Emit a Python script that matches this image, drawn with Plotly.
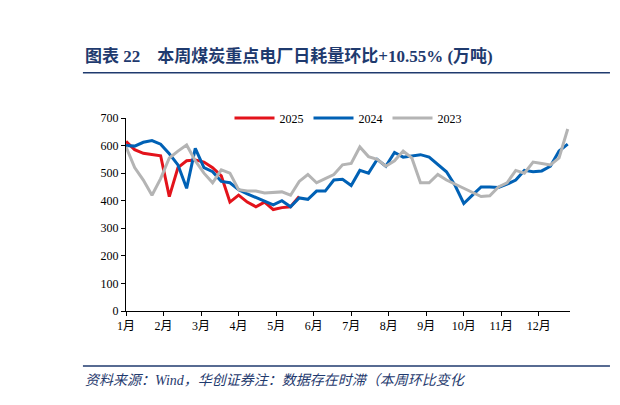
import plotly.graph_objects as go

months = ['1月', '2月', '3月', '4月', '5月', '6月', '7月', '8月', '9月', '10月', '11月', '12月']

y2025 = [615, 585, 572, 567, 563, 415, 520, 545, 548, 540, 520, 490, 395, 420, 395, 378,
         395, 368, 375, 378, 415]
y2024 = [600, 598, 612, 618, 605, 570, 530, 445, 590, 520, 505, 470, 465, 440, 425, 412,
         398, 385, 400, 378, 410, 405, 435, 435, 475, 478, 455, 510, 500, 550, 525, 575,
         558, 562, 567, 558, 530, 505, 455, 390, 420, 450, 450, 448, 460, 475, 510, 505,
         508, 525, 580, 605]
y2023 = [595, 520, 475, 420, 480, 555, 580, 602, 545, 500, 465, 512, 500, 440, 435, 435,
         428, 430, 432, 420, 470, 495, 465, 480, 495, 530, 535, 595, 560, 550, 525, 545,
         580, 555, 465, 465, 495, 475, 460, 445, 430, 415, 418, 450, 465, 510, 500, 540,
         535, 530, 555, 660]

def wk(n):
    return [i * 12 / 52 for i in range(n)]

fig = go.Figure()
fig.add_trace(go.Scatter(x=wk(len(y2025)), y=y2025, name='2025', mode='lines',
                         line=dict(color='#e3131b', width=3)))
fig.add_trace(go.Scatter(x=wk(len(y2024)), y=y2024, name='2024', mode='lines',
                         line=dict(color='#0061b5', width=3)))
fig.add_trace(go.Scatter(x=wk(len(y2023)), y=y2023, name='2023', mode='lines',
                         line=dict(color='#b4b4b4', width=3)))

# plot area: 446 x 193 px
font = dict(family='Liberation Serif, Noto Sans CJK SC', size=12, color='#000')
fig.update_layout(
    width=620, height=405, plot_bgcolor='white', paper_bgcolor='white',
    margin=dict(l=118, r=58, t=110, b=102), font=font,
    legend=dict(orientation='h', x=0.5, xanchor='center', y=1.0, yanchor='middle',
                bgcolor='rgba(0,0,0,0)', font=font, itemwidth=40),
    xaxis=dict(range=[0, 11.83], tickvals=list(range(12)), ticktext=months,
               showgrid=False, zeroline=False, showline=True, linecolor='#000',
               ticks='outside', ticklen=4, tickcolor='#000'),
    yaxis=dict(range=[0, 700], dtick=100, showgrid=False, zeroline=False,
               showline=True, linecolor='#000', ticks='outside', ticklen=4,
               tickcolor='#000'),
    shapes=[
        dict(type='line', xref='paper', yref='paper', x0=-0.097, x1=1.09,
             y0=1.235, y1=1.235, line=dict(color='#1f3a6e', width=1.5)),
        dict(type='line', xref='paper', yref='paper', x0=-0.097, x1=1.09,
             y0=-0.285, y1=-0.285, line=dict(color='#1f3a6e', width=1.5)),
    ],
    annotations=[
        dict(xref='paper', yref='paper', x=-0.097, y=1.26, xanchor='left', yanchor='bottom',
             showarrow=False,
             text='<b>图表 22　本周煤炭重点电厂日耗量环比+10.55% (万吨)</b>',
             font=dict(family='Liberation Serif, Noto Sans CJK SC', size=17, color='#1f3a6e')),
        dict(xref='paper', yref='paper', x=-0.097, y=-0.31, xanchor='left', yanchor='top',
             showarrow=False,
             text='<i>资料来源：Wind，华创证券注：数据存在时滞（本周环比变化</i>',
             font=dict(family='Liberation Serif, Noto Sans CJK SC', size=14, color='#1f3a6e')),
    ],
)

fig.write_html('out.html')
